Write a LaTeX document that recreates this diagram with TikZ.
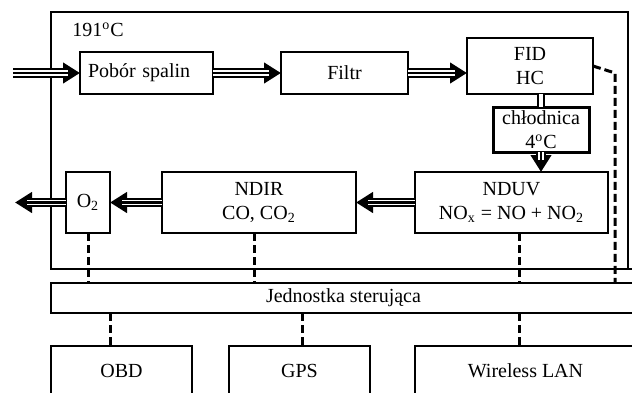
\documentclass[tikz,border=0pt]{standalone}
\usepackage{fontspec}
\setmainfont{Liberation Serif}
\usetikzlibrary{positioning, arrows.meta}
\tikzset{
  every node/.style={font=\normalsize},
  blk/.style={draw, line width=0.6pt, inner sep=2pt, outer sep=0pt, align=center},
  cooler/.style={blk, line width=1.5pt},
  chamber/.style={draw, line width=0.6pt, inner sep=0pt, outer sep=0pt},
  floor/.style={line width=1.1pt},
  flow/.style={draw, line width=4.6pt, -{Triangle[length=8.5pt, width=10pt]},
    postaction={draw=white, line width=2.6pt, -, shorten >=6pt},
    postaction={draw, line width=1.2pt, -, shorten >=5pt}},
  pipe/.style={draw, line width=1pt, double=white, double distance=1.6pt},
  sig/.style={draw, line width=1.5pt, dash pattern=on 4pt off 2pt},
}
\begin{document}
\begin{tikzpicture}[x=0.5pt, y=-0.5pt]
  \path[use as bounding box, clip] (0,0) rectangle (632,392);
  % heated part of the analyser
  \node[chamber, minimum width=288.5pt, minimum height=128.5pt] (oven) at (339.5,140.5) {};
  \node[inner sep=0pt, anchor=north west, below right=5pt and 10.5pt of oven.north west] (temp) {191\textsuperscript{o}C};

  \node[blk, text width=58.5pt, inner sep=4pt, align=left, minimum height=21pt] (pobor) at (146.5,73) {Pobór spalin};
  \node[blk, minimum width=63.5pt, minimum height=21pt] (filtr) at (344.5,73) {Filtr};
  \node[blk, minimum width=63pt, minimum height=28pt] (fid) at (530,66) {FID\\HC};
  \node[cooler, minimum width=48pt, minimum height=22.5pt, inner sep=1pt] (chl) at (541,129.5) {chłodnica\\4\textsuperscript{o}C};
  \node[blk, minimum width=96.5pt, minimum height=30.5pt] (nduv) at (511.5,202.5) {NDUV\\NO\textsubscript{x} = NO + NO\textsubscript{2}};
  \node[blk, minimum width=97pt, minimum height=30.5pt] (ndir) at (259,202.5) {NDIR\\CO, CO\textsubscript{2}};
  \node[blk, minimum width=22pt, minimum height=30.5pt] (o2) at (88,202.5) {O\textsubscript{2}};

  % control unit and interfaces
  \node[blk, minimum width=292.5pt, minimum height=15pt] (jed) at (343.5,298) {Jednostka sterująca};
  \node[blk, minimum width=70.5pt, minimum height=25pt] (obd) at (121.5,371) {OBD};
  \node[blk, minimum width=70.5pt, minimum height=25pt] (gps) at (299.5,371) {GPS};
  \node[blk, minimum width=110.5pt, minimum height=25pt] (wlan) at (525.5,371) {Wireless LAN};

  \draw[floor] (oven.south west) -- (oven.south -| jed.east);

  % gas path
  \coordinate (in) at (13,73);
  \coordinate (out) at (15,202.5);
  \draw[flow] (in) -- (pobor);
  \draw[flow] (pobor) -- (filtr);
  \draw[flow] (filtr.east) -- (filtr.east -| fid.west);
  \draw[pipe] (fid.south -| chl) -- (chl.north);
  \draw[flow] (chl.south) -- (chl.south |- nduv.north);
  \draw[flow] (nduv) -- (ndir);
  \draw[flow] (ndir) -- (o2);
  \draw[flow] (o2) -- (out);

  % signal lines
  \coordinate (fidtap) at (615,73);
  \coordinate (ndirtap) at ([xshift=-2.5pt]ndir.south);
  \coordinate (nduvtap) at ([xshift=3.75pt]nduv.south);
  \coordinate (obdtap) at ([xshift=-5.75pt]obd.north);
  \coordinate (gpstap) at ([xshift=1.25pt]gps.north);
  \draw[sig] (fid.east) -- (fidtap) -- (fidtap |- jed.north);
  \draw[sig] (o2.south) -- (o2.south |- jed.north);
  \draw[sig] (ndirtap) -- (ndirtap |- jed.north);
  \draw[sig] (nduvtap) -- (nduvtap |- jed.north);
  \draw[sig] (nduvtap |- jed.south) -- (nduvtap |- wlan.north);
  \draw[sig] (obdtap |- jed.south) -- (obdtap);
  \draw[sig] (gpstap |- jed.south) -- (gpstap);
\end{tikzpicture}
\end{document}
